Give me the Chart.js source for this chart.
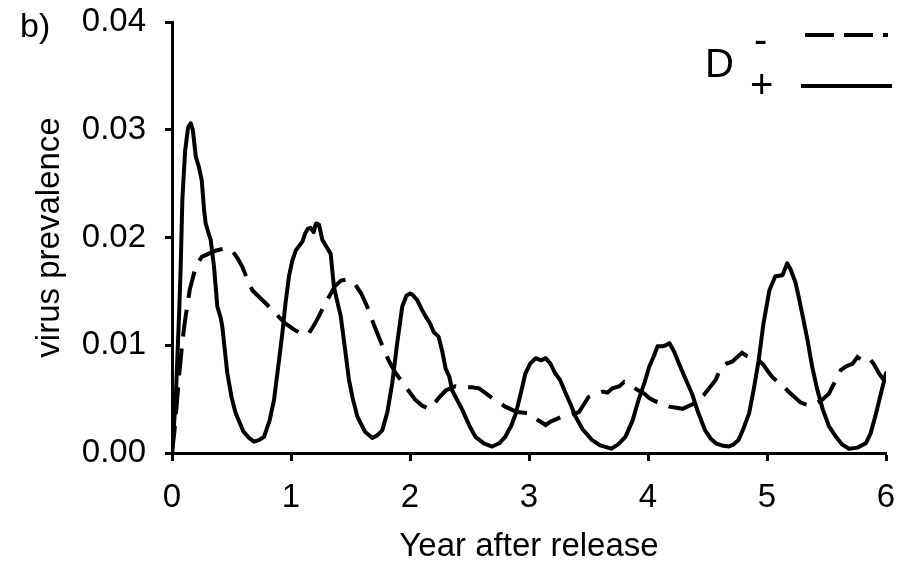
<!DOCTYPE html>
<html>
<head>
<meta charset="utf-8">
<script src="https://cdn.jsdelivr.net/npm/chart.js@4.4.1/dist/chart.umd.min.js"></script>
<style>
  html, body { margin: 0; padding: 0; background: #fff; }
  #wrap { width: 906px; height: 570px; position: relative; }
</style>
</head>
<body>
<div id="wrap"><canvas id="c" width="906" height="570"></canvas></div>
<script>
// ---- Data ----
const xTickLabels = ['0', '1', '2', '3', '4', '5', '6'];
const yTickLabels = ['0.00', '0.01', '0.02', '0.03', '0.04'];

// D+ (solid line)
const plusYears = [0, 0.031, 0.06, 0.073, 0.087, 0.11, 0.135, 0.157, 0.175, 0.2, 0.227, 0.25, 0.27, 0.283, 0.31, 0.325, 0.353, 0.381, 0.41, 0.423, 0.465, 0.5, 0.535, 0.6, 0.647, 0.689, 0.73, 0.773, 0.82, 0.857, 0.89, 0.927, 0.955, 0.983, 1.01, 1.04, 1.095, 1.12, 1.14, 1.165, 1.19, 1.21, 1.235, 1.263, 1.3, 1.333, 1.361, 1.39, 1.418, 1.45, 1.487, 1.52, 1.557, 1.62, 1.683, 1.72, 1.767, 1.81, 1.851, 1.89, 1.935, 1.97, 2.0, 2.02, 2.06, 2.1, 2.13, 2.17, 2.2, 2.24, 2.27, 2.3, 2.33, 2.355, 2.44, 2.5, 2.55, 2.62, 2.69, 2.75, 2.8, 2.85, 2.89, 2.93, 2.97, 3.01, 3.056, 3.1, 3.14, 3.18, 3.22, 3.26, 3.31, 3.35, 3.39, 3.45, 3.53, 3.6, 3.69, 3.75, 3.81, 3.87, 3.92, 3.97, 4.01, 4.05, 4.08, 4.12, 4.15, 4.18, 4.22, 4.26, 4.31, 4.37, 4.42, 4.48, 4.53, 4.57, 4.62, 4.68, 4.72, 4.76, 4.8, 4.85, 4.89, 4.93, 4.97, 5.02, 5.07, 5.13, 5.17, 5.2, 5.24, 5.27, 5.3, 5.34, 5.38, 5.42, 5.47, 5.52, 5.58, 5.63, 5.69, 5.76, 5.83, 5.87, 5.91, 5.95, 6.0];
const plusPrev = [0, 0.0049, 0.013, 0.0173, 0.0235, 0.028, 0.0302, 0.0306, 0.030, 0.0275, 0.0265, 0.0253, 0.0225, 0.0213, 0.0203, 0.0198, 0.0173, 0.0136, 0.0125, 0.0117, 0.0074, 0.0052, 0.0037, 0.0020, 0.0014, 0.00105, 0.0012, 0.0015, 0.0030, 0.0049, 0.0078, 0.0111, 0.0140, 0.0164, 0.0178, 0.0188, 0.0196, 0.0204, 0.0208, 0.0209, 0.0205, 0.0213, 0.0212, 0.0198, 0.0191, 0.0185, 0.0154, 0.0140, 0.0127, 0.0100, 0.0068, 0.0050, 0.0034, 0.0020, 0.0014, 0.0016, 0.0021, 0.0038, 0.0065, 0.0100, 0.0136, 0.0146, 0.0148, 0.0147, 0.0142, 0.0133, 0.0127, 0.0120, 0.0112, 0.0108, 0.0095, 0.0078, 0.0071, 0.0058, 0.0040, 0.0025, 0.0015, 0.0009, 0.0006, 0.0009, 0.0015, 0.0025, 0.0037, 0.0055, 0.0074, 0.0083, 0.0088, 0.0086, 0.0088, 0.0083, 0.0074, 0.0068, 0.0055, 0.0045, 0.0034, 0.0022, 0.0012, 0.0007, 0.0004, 0.0008, 0.0015, 0.0030, 0.0049, 0.0065, 0.0080, 0.0090, 0.0099, 0.0099, 0.0100, 0.0102, 0.0094, 0.0083, 0.0070, 0.0055, 0.0038, 0.0021, 0.0013, 0.0009, 0.0007, 0.0006, 0.0008, 0.0012, 0.0022, 0.0037, 0.0060, 0.0086, 0.0120, 0.0151, 0.0164, 0.0165, 0.0176, 0.0170, 0.0158, 0.0143, 0.0127, 0.0105, 0.0080, 0.0060, 0.0040, 0.0025, 0.0015, 0.0008, 0.0004, 0.0005, 0.0009, 0.0018, 0.0034, 0.0052, 0.0074];

// D- (dashed line)
const minusYears = [0, 0.02, 0.04, 0.059, 0.08, 0.1, 0.115, 0.15, 0.2, 0.25, 0.31, 0.37, 0.45, 0.51, 0.55, 0.59, 0.63, 0.675, 0.73, 0.787, 0.85, 0.9, 0.955, 1.02, 1.095, 1.15, 1.19, 1.235, 1.28, 1.32, 1.37, 1.42, 1.47, 1.53, 1.59, 1.64, 1.7, 1.77, 1.82, 1.88, 1.96, 2.04, 2.1, 2.16, 2.2, 2.24, 2.3, 2.38, 2.45, 2.52, 2.58, 2.63, 2.69, 2.75, 2.8, 2.9, 3.0, 3.07, 3.14, 3.18, 3.22, 3.28, 3.34, 3.42, 3.46, 3.5, 3.56, 3.62, 3.66, 3.7, 3.76, 3.8, 3.86, 3.92, 3.97, 4.01, 4.06, 4.12, 4.18, 4.24, 4.29, 4.33, 4.37, 4.42, 4.47, 4.52, 4.57, 4.61, 4.66, 4.71, 4.75, 4.79, 4.83, 4.88, 4.93, 4.97, 5.0, 5.04, 5.08, 5.13, 5.18, 5.24, 5.28, 5.33, 5.37, 5.41, 5.46, 5.52, 5.57, 5.62, 5.66, 5.72, 5.76, 5.8, 5.86, 5.9, 5.94, 5.98, 6.0];
const minusPrev = [0, 0.0020, 0.0045, 0.0071, 0.0095, 0.0115, 0.0127, 0.0152, 0.0173, 0.0182, 0.0185, 0.0188, 0.0190, 0.0187, 0.0181, 0.0173, 0.0162, 0.0151, 0.0145, 0.0139, 0.0132, 0.0126, 0.0120, 0.0115, 0.0110, 0.0111, 0.0118, 0.0127, 0.0137, 0.0145, 0.0155, 0.0160, 0.0161, 0.0158, 0.0148, 0.0136, 0.0118, 0.0099, 0.0086, 0.0074, 0.0062, 0.0050, 0.0044, 0.0041, 0.0045, 0.0051, 0.0058, 0.0062, 0.0061, 0.0061, 0.0060, 0.0056, 0.0051, 0.0047, 0.0043, 0.0038, 0.0037, 0.0031, 0.0026, 0.0029, 0.0031, 0.0034, 0.0035, 0.0038, 0.0045, 0.0052, 0.0055, 0.0057, 0.0056, 0.0060, 0.0062, 0.0066, 0.0062, 0.0058, 0.0055, 0.0051, 0.0048, 0.0046, 0.0043, 0.0042, 0.0041, 0.0043, 0.0045, 0.0049, 0.0054, 0.0061, 0.0068, 0.0079, 0.0083, 0.0085, 0.0089, 0.0093, 0.0090, 0.0088, 0.0086, 0.0082, 0.0077, 0.0071, 0.0067, 0.0063, 0.0057, 0.0051, 0.0047, 0.0045, 0.0044, 0.0046, 0.0049, 0.0055, 0.0066, 0.0077, 0.0080, 0.0083, 0.0089, 0.0086, 0.0088, 0.0082, 0.0074, 0.0068, 0.0072];

const toPoints = (xs, ys) => xs.map((x, i) => ({ x: x, y: ys[i] }));

const FONT = '"Liberation Sans", Arial, Helvetica, sans-serif';

const decorations = {
  id: 'decorations',
  afterDraw(chart) {
    const ctx = chart.ctx;
    ctx.save();
    ctx.fillStyle = '#000';
    ctx.textAlign = 'left';
    ctx.textBaseline = 'alphabetic';
    // panel label
    ctx.font = '34px ' + FONT;
    ctx.fillText('b)', 20, 37);
    // legend
    ctx.font = '40px ' + FONT;
    ctx.fillText('D', 705, 77);
    ctx.fillText('-', 754, 53);
    ctx.fillText('+', 750, 98);
    ctx.strokeStyle = '#000';
    ctx.lineWidth = 4;
    ctx.setLineDash([29, 10]);
    ctx.beginPath();
    ctx.moveTo(805, 35);
    ctx.lineTo(888, 35);
    ctx.stroke();
    ctx.setLineDash([]);
    ctx.beginPath();
    ctx.moveTo(801, 86);
    ctx.lineTo(892, 86);
    ctx.stroke();
    ctx.restore();
  }
};

new Chart(document.getElementById('c'), {
  type: 'line',
  data: {
    datasets: [
      {
        label: 'D -',
        data: toPoints(minusYears, minusPrev),
        borderColor: '#000',
        borderWidth: 4,
        borderDash: [27, 12],
        pointRadius: 0,
        tension: 0,
        fill: false
      },
      {
        label: 'D +',
        data: toPoints(plusYears, plusPrev),
        borderColor: '#000',
        borderWidth: 4,
        borderJoinStyle: 'round',
        borderCapStyle: 'round',
        pointRadius: 0,
        tension: 0,
        fill: false
      }
    ]
  },
  options: {
    responsive: false,
    animation: false,
    events: [],
    layout: { padding: { top: 22, right: 20, left: 0, bottom: 0 } },
    plugins: {
      legend: { display: false },
      tooltip: { enabled: false },
      title: { display: false }
    },
    scales: {
      x: {
        type: 'linear',
        min: 0,
        max: 6,
        afterFit(scale) {
          scale.height = 117;
          scale.paddingLeft = 0;
          scale.paddingRight = 0;
        },
        ticks: {
          stepSize: 1,
          padding: 17,
          color: '#000',
          font: { family: FONT, size: 33 },
          maxRotation: 0,
          callback: (v, i) => xTickLabels[i]
        },
        grid: { display: true, drawOnChartArea: false, drawTicks: true, tickLength: 8, tickWidth: 3, tickColor: '#000' },
        border: { display: true, color: '#000', width: 3 },
        title: {
          display: true,
          text: 'Year after release',
          color: '#000',
          font: { family: FONT, size: 33 },
          padding: { top: 0, bottom: 3 }
        }
      },
      y: {
        type: 'linear',
        min: 0,
        max: 0.04,
        afterFit(scale) {
          scale.width = 172;
          scale.paddingTop = 0;
          scale.paddingBottom = 0;
        },
        ticks: {
          stepSize: 0.01,
          padding: 19,
          color: '#000',
          font: { family: FONT, size: 33 },
          callback: (v, i) => yTickLabels[i]
        },
        grid: { display: true, drawOnChartArea: false, drawTicks: true, tickLength: 7, tickWidth: 3, tickColor: '#000' },
        border: { display: true, color: '#000', width: 3 },
        title: {
          display: true,
          text: 'virus prevalence',
          color: '#000',
          font: { family: FONT, size: 33 },
          padding: { top: 30, bottom: 0 }
        }
      }
    }
  },
  plugins: [decorations]
});
</script>
</body>
</html>
